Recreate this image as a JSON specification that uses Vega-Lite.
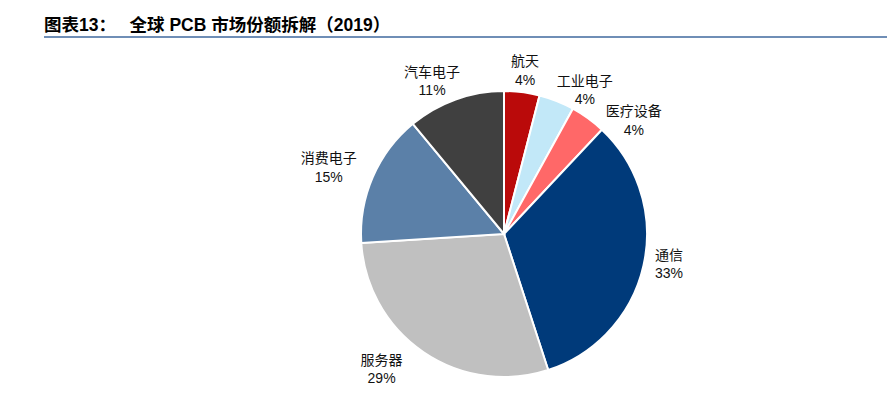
{
  "$schema": "https://vega.github.io/schema/vega-lite/v6.json",
  "autosize": {"type": "none"},
  "width": 920,
  "height": 394,
  "padding": {"left": 44, "top": 37, "right": -77, "bottom": -32},
  "background": "white",
  "config": {"view": {"stroke": null}},
  "title": {
    "text": "图表13：　  全球 PCB 市场份额拆解（2019）",
    "anchor": "start",
    "frame": "group",
    "font": "Liberation Sans, Noto Sans CJK SC",
    "fontSize": 17.5,
    "fontWeight": "bold",
    "color": "#000000",
    "baseline": "alphabetic",
    "offset": 7,
    "dy": 19
  },
  "data": {
    "values": [
      {"k": 1, "name": "航天", "share": 4},
      {"k": 2, "name": "工业电子", "share": 4},
      {"k": 3, "name": "医疗设备", "share": 4},
      {"k": 4, "name": "通信", "share": 33},
      {"k": 5, "name": "服务器", "share": 29},
      {"k": 6, "name": "消费电子", "share": 15},
      {"k": 7, "name": "汽车电子", "share": 11}
    ]
  },
  "transform": [
    {"stack": "share", "groupby": [], "sort": [{"field": "k", "order": "ascending"}], "as": ["s0", "s1"]},
    {"calculate": "(datum.s0 + datum.s1) / 2", "as": "mid"},
    {"calculate": "[datum.name, datum.share + '%']", "as": "label"}
  ],
  "layer": [
    {
      "mark": {"type": "rule", "color": "#6F8EB6", "strokeWidth": 2},
      "encoding": {
        "y": {"datum": 1, "type": "quantitative", "scale": {"domain": [0, 1]}, "axis": null}
      }
    },
    {
      "mark": {"type": "arc", "outerRadius": 143, "stroke": "white", "strokeWidth": 2},
      "encoding": {
        "theta": {"field": "s0", "type": "quantitative", "stack": null, "scale": {"domain": [0, 100]}},
        "theta2": {"field": "s1"},
        "color": {
          "field": "name",
          "type": "nominal",
          "scale": {
            "domain": ["航天", "工业电子", "医疗设备", "通信", "服务器", "消费电子", "汽车电子"],
            "range": ["#BA0A0A", "#C2E8F8", "#FF6868", "#003A7A", "#C0C0C0", "#5B80A8", "#404040"]
          },
          "legend": null
        }
      }
    },
    {
      "transform": [{"filter": "datum.name === '航天'"}],
      "mark": {"type": "text", "radius": 168, "dx": 0, "dy": -5, "font": "Liberation Sans, Noto Sans CJK SC", "fontSize": 14, "lineHeight": 18.5, "align": "center", "baseline": "middle", "color": "#111111"},
      "encoding": {"theta": {"field": "mid", "type": "quantitative", "stack": null}, "text": {"field": "label"}}
    },
    {
      "transform": [{"filter": "datum.name === '工业电子'"}],
      "mark": {"type": "text", "radius": 168, "dx": 19, "dy": 4, "font": "Liberation Sans, Noto Sans CJK SC", "fontSize": 14, "lineHeight": 18.5, "align": "center", "baseline": "middle", "color": "#111111"},
      "encoding": {"theta": {"field": "mid", "type": "quantitative", "stack": null}, "text": {"field": "label"}}
    },
    {
      "transform": [{"filter": "datum.name === '医疗设备'"}],
      "mark": {"type": "text", "radius": 168, "dx": 31, "dy": 14, "font": "Liberation Sans, Noto Sans CJK SC", "fontSize": 14, "lineHeight": 18.5, "align": "center", "baseline": "middle", "color": "#111111"},
      "encoding": {"theta": {"field": "mid", "type": "quantitative", "stack": null}, "text": {"field": "label"}}
    },
    {
      "transform": [{"filter": "datum.name === '通信'"}],
      "mark": {"type": "text", "radius": 168, "dx": 1, "dy": -15, "font": "Liberation Sans, Noto Sans CJK SC", "fontSize": 14, "lineHeight": 18.5, "align": "center", "baseline": "middle", "color": "#111111"},
      "encoding": {"theta": {"field": "mid", "type": "quantitative", "stack": null}, "text": {"field": "label"}}
    },
    {
      "transform": [{"filter": "datum.name === '服务器'"}],
      "mark": {"type": "text", "radius": 168, "dx": -28, "dy": -12, "font": "Liberation Sans, Noto Sans CJK SC", "fontSize": 14, "lineHeight": 18.5, "align": "center", "baseline": "middle", "color": "#111111"},
      "encoding": {"theta": {"field": "mid", "type": "quantitative", "stack": null}, "text": {"field": "label"}}
    },
    {
      "transform": [{"filter": "datum.name === '消费电子'"}],
      "mark": {"type": "text", "radius": 168, "dx": -21, "dy": -8, "font": "Liberation Sans, Noto Sans CJK SC", "fontSize": 14, "lineHeight": 18.5, "align": "center", "baseline": "middle", "color": "#111111"},
      "encoding": {"theta": {"field": "mid", "type": "quantitative", "stack": null}, "text": {"field": "label"}}
    },
    {
      "transform": [{"filter": "datum.name === '汽车电子'"}],
      "mark": {"type": "text", "radius": 168, "dx": -15, "dy": -3, "font": "Liberation Sans, Noto Sans CJK SC", "fontSize": 14, "lineHeight": 18.5, "align": "center", "baseline": "middle", "color": "#111111"},
      "encoding": {"theta": {"field": "mid", "type": "quantitative", "stack": null}, "text": {"field": "label"}}
    }
  ]
}
